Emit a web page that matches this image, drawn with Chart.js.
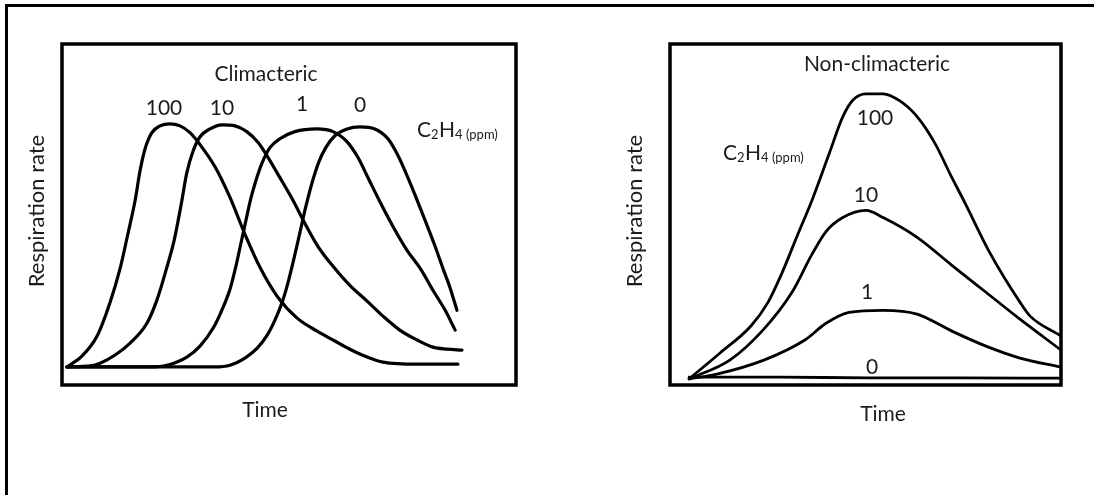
<!DOCTYPE html>
<html>
<head>
<meta charset="utf-8">
<script src="https://cdn.jsdelivr.net/npm/chart.js@4.4.1/dist/chart.umd.min.js"></script>
<style>
html, body { margin: 0; padding: 0; background: #fff; overflow: hidden; }
#frame { position: absolute; left: 5px; top: 4px; width: 2000px; height: 2000px;
         border-top: 3px solid #000; border-left: 3px solid #000; }
canvas { position: absolute; top: 0; }
</style>
</head>
<body>
<div id="frame"></div>
<canvas id="climChart" width="547" height="495" style="left:0"></canvas>
<canvas id="nonClimChart" width="547" height="495" style="left:547px"></canvas>
<script>
// time and respiration are in arbitrary units 0..100

// Climacteric, one curve per C2H4 level (ppm)
const climTime100 = [1.1, 4.4, 7.7, 10.6, 12.8, 14.5, 16.1, 17.2, 18.3, 19.8, 21.6, 23.8, 26.0, 28.2, 30.4, 33.7, 37.0, 40.3, 43.6, 47.4, 51.8, 56.2, 60.1, 63.4, 67.2, 70.7, 78.2, 87.2];
const climRate100 = [5.3, 8.5, 14.3, 24.3, 34.2, 44.2, 54.1, 62.9, 69.3, 74.0, 76.0, 76.6, 76.0, 74.0, 70.5, 64.0, 55.0, 44.2, 34.5, 26.0, 19.6, 15.8, 12.9, 10.5, 8.2, 6.7, 6.1, 6.1];

const climTime10 = [1.1, 6.2, 8.4, 11.7, 15.0, 18.7, 20.9, 22.9, 24.7, 26.2, 27.5, 28.9, 30.4, 32.6, 35.2, 38.1, 40.7, 43.2, 45.4, 48.0, 50.9, 53.5, 56.4, 59.7, 63.4, 67.2, 70.7, 74.4, 78.2, 81.7, 84.8, 88.1];
const climRate10 = [5.3, 5.6, 6.4, 8.8, 12.3, 18.1, 24.9, 33.6, 42.4, 52.6, 62.3, 68.7, 72.8, 75.1, 76.3, 76.0, 74.3, 71.1, 66.7, 60.8, 54.1, 47.4, 40.6, 34.8, 29.2, 24.6, 20.2, 16.1, 13.2, 11.1, 10.5, 10.2];

const climTime1 = [1.1, 19.4, 23.1, 27.5, 30.4, 33.3, 35.2, 37.0, 38.3, 39.4, 40.5, 41.6, 42.7, 44.1, 45.8, 48.0, 51.3, 56.2, 59.7, 62.8, 65.2, 67.4, 70.0, 72.9, 76.0, 78.9, 81.7, 84.4, 86.6];
const climRate1 = [5.3, 5.3, 5.8, 8.2, 11.4, 16.7, 21.9, 28.1, 34.8, 41.5, 48.2, 54.7, 59.9, 65.2, 69.6, 72.2, 74.3, 75.1, 74.3, 71.3, 66.7, 60.8, 53.8, 46.5, 39.5, 34.2, 27.8, 21.9, 16.1];

const climTime0 = [1.1, 33.7, 37.0, 40.3, 43.0, 45.2, 46.9, 48.5, 49.8, 51.1, 52.4, 53.7, 55.1, 56.6, 58.1, 60.1, 62.8, 65.6, 68.9, 71.8, 74.0, 76.0, 77.8, 80.0, 82.2, 83.9, 85.5, 87.0];
const climRate0 = [5.3, 5.3, 5.8, 7.9, 10.8, 14.6, 19.0, 24.3, 30.1, 37.1, 44.7, 52.3, 59.4, 65.5, 69.6, 73.1, 75.1, 75.7, 75.1, 72.2, 67.3, 61.4, 55.6, 48.2, 40.6, 34.2, 28.4, 21.9];

// Non-climacteric
const nonTime100 = [4.9, 12.8, 20.7, 25.1, 28.4, 32.7, 36.3, 40.7, 44.2, 46.8, 50.1, 54.5, 58.8, 63.2, 67.8, 72.1, 75.4, 81.6, 89.5, 92.1, 99.7];
const nonRate100 = [1.8, 9.4, 17.3, 24.3, 32.2, 44.2, 54.1, 67.8, 78.7, 83.6, 85.4, 85.4, 83.3, 78.7, 70.8, 60.8, 53.5, 39.2, 24.3, 20.2, 14.6];

const nonTime10 = [4.9, 15.3, 24.0, 31.2, 36.3, 39.9, 44.2, 50.1, 54.5, 63.2, 72.1, 80.8, 89.5, 99.7];
const nonRate10 = [1.8, 7.3, 16.4, 27.2, 38.3, 45.0, 49.1, 51.2, 49.1, 43.3, 35.1, 27.2, 19.3, 10.5];

const nonTime1 = [4.9, 12.0, 24.0, 34.5, 39.9, 45.8, 54.5, 63.2, 72.1, 80.8, 89.5, 99.7];
const nonRate1 = [1.8, 3.2, 7.3, 13.2, 18.1, 21.3, 21.9, 20.8, 15.8, 11.4, 7.9, 5.3];

const nonTime0 = [4.9, 28.0, 51.0, 74.0, 99.7];
const nonRate0 = [2.3, 2.3, 2.1, 2.1, 2.0];

const ethyleneLevels = ['100', '10', '1', '0'];

const FONT = 'Lato, "Open Sans", sans-serif';
const INK = '#1c1c1c';

function toPoints(xs, ys) {
  return xs.map((x, i) => ({x: x, y: ys[i]}));
}

// box, labels and axis titles drawn on top of the curves
const decor = {
  id: 'decor',
  afterDatasetsDraw(chart, args, opts) {
    const ctx = chart.ctx;
    const a = chart.chartArea;
    ctx.save();
    ctx.strokeStyle = '#000';
    ctx.lineWidth = 3.5;
    ctx.strokeRect(a.left, a.top, a.right - a.left, a.bottom - a.top);

    ctx.fillStyle = INK;
    ctx.textBaseline = 'alphabetic';
    opts.notes.forEach(n => {
      ctx.font = n.size + 'px ' + FONT;
      ctx.textAlign = 'center';
      ctx.fillText(n.text, n.x, n.y);
    });

    // C2H4 (ppm) with subscripts
    let x = opts.formula.x;
    const parts = [['C', 21, 0], ['2', 13, 2], ['H', 21, 0], ['4 (ppm)', 13, 2]];
    ctx.textAlign = 'left';
    parts.forEach(p => {
      ctx.font = p[1] + 'px ' + FONT;
      ctx.fillText(p[0], x, opts.formula.y + p[2]);
      x += ctx.measureText(p[0]).width + (p[1] < 21 ? 0.5 : 0);
    });

    // axis titles
    ctx.font = '21px ' + FONT;
    ctx.textAlign = 'center';
    ctx.fillText('Time', opts.xTitle.x, opts.xTitle.y);
    ctx.font = '22px ' + FONT;
    ctx.translate(opts.yTitle.x, opts.yTitle.y);
    ctx.rotate(-Math.PI / 2);
    ctx.textBaseline = 'middle';
    ctx.fillText('Respiration rate', 0, 0);
    ctx.restore();
  }
};

function makeChart(id, series, padding, width, decorOpts) {
  return new Chart(id, {
    type: 'line',
    data: {
      datasets: series.map((s, i) => ({
        label: ethyleneLevels[i] + ' ppm',
        data: toPoints(s[0], s[1]),
        borderColor: '#000',
        borderWidth: width,
        borderCapStyle: 'round',
        pointRadius: 0,
        fill: false,
        cubicInterpolationMode: 'monotone'
      }))
    },
    options: {
      responsive: false,
      animation: false,
      devicePixelRatio: 1,
      events: [],
      layout: {padding: padding},
      scales: {
        x: {type: 'linear', min: 0, max: 100, display: false},
        y: {min: 0, max: 100, display: false}
      },
      plugins: {
        legend: {display: false},
        tooltip: {enabled: false},
        decor: decorOpts
      }
    },
    plugins: [decor]
  });
}

makeChart('climChart',
  [[climTime100, climRate100], [climTime10, climRate10], [climTime1, climRate1], [climTime0, climRate0]],
  {left: 62, top: 44, right: 31, bottom: 110}, 3.2,
  {
    notes: [
      {text: 'Climacteric', x: 266, y: 81, size: 21},
      {text: '100', x: 164, y: 115, size: 21},
      {text: '10', x: 222, y: 115, size: 21},
      {text: '1', x: 302, y: 111, size: 21},
      {text: '0', x: 360, y: 112, size: 21}
    ],
    formula: {x: 417, y: 137},
    xTitle: {x: 265, y: 417},
    yTitle: {x: 37, y: 211}
  });

makeChart('nonClimChart',
  [[nonTime100, nonRate100], [nonTime10, nonRate10], [nonTime1, nonRate1], [nonTime0, nonRate0]],
  {left: 123, top: 44, right: 33, bottom: 110}, 2.8,
  {
    notes: [
      {text: 'Non-climacteric', x: 877 - 547, y: 71, size: 21},
      {text: '100', x: 875 - 547, y: 125, size: 21},
      {text: '10', x: 866 - 547, y: 202, size: 21},
      {text: '1', x: 867 - 547, y: 299, size: 21},
      {text: '0', x: 872 - 547, y: 374, size: 21}
    ],
    formula: {x: 723 - 547, y: 160},
    xTitle: {x: 883 - 547, y: 421},
    yTitle: {x: 635 - 547, y: 211}
  });
</script>
</body>
</html>
